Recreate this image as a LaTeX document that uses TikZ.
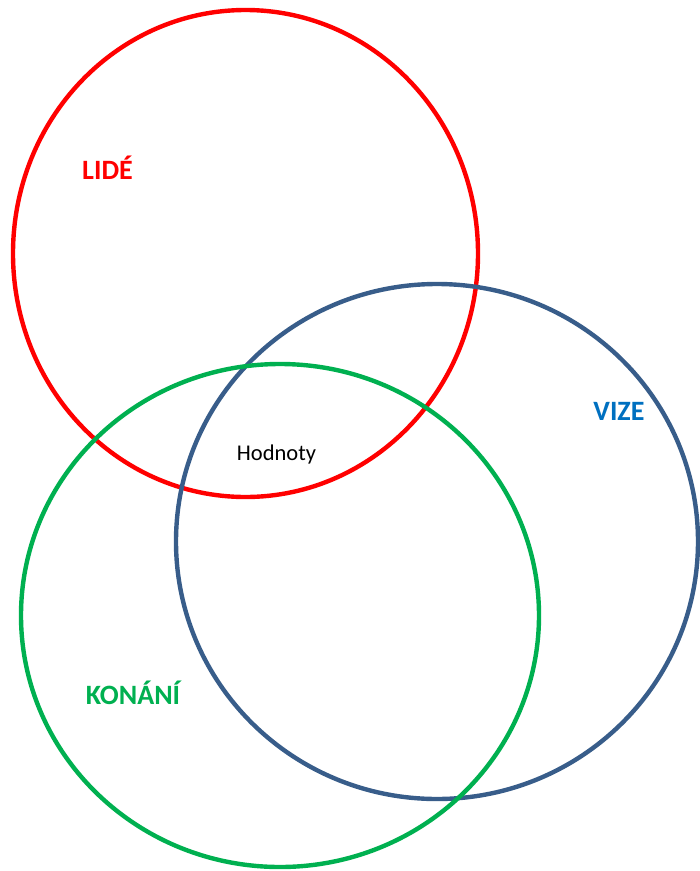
\documentclass[tikz,border=0pt]{standalone}
\usepackage{fontspec}
\setmainfont{Carlito}
\definecolor{lidered}{HTML}{FF0000}
\definecolor{vizeline}{HTML}{385D8A}
\definecolor{vizetext}{HTML}{0070C0}
\definecolor{konanigreen}{HTML}{00B050}
\tikzset{
  ring/.style={line width=4.4pt},
  biglabel/.style={font=\fontsize{28}{28}\selectfont\bfseries, inner sep=0pt},
  smalllabel/.style={font=\fontsize{22.5}{22.5}\selectfont, inner sep=0pt, text=black}
}
\begin{document}
\begin{tikzpicture}[x=1pt,y=-1pt]
\useasboundingbox (0,0) rectangle (700,871);
\draw[ring, lidered] (245.5,253.5) ellipse [x radius=232.5, y radius=243.5];
\draw[ring, vizeline] (437,541.5) ellipse [x radius=261, y radius=257.5];
\draw[ring, konanigreen] (280,615.5) ellipse [x radius=259, y radius=251.5];
\node[biglabel, text=lidered] (lide) at (107.5,168) {LIDÉ};
\node[biglabel, text=vizetext] (vize) at (619,411) {VIZE};
\node[biglabel, text=konanigreen] (konani) at (133,693) {KONÁNÍ};
\node[smalllabel] (hodnoty) at (276.5,454) {Hodnoty};
\end{tikzpicture}
\end{document}
